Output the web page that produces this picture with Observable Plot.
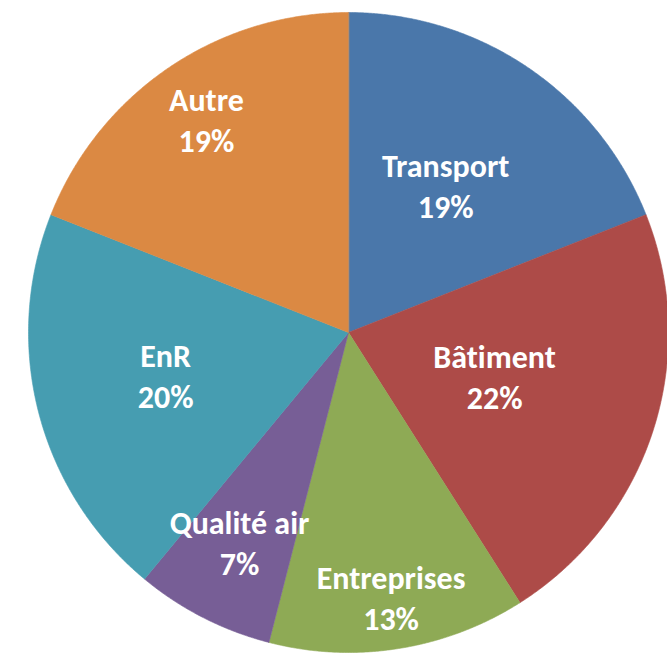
<!DOCTYPE html>
<html>
<head>
<meta charset="utf-8">
<script src="https://cdn.jsdelivr.net/npm/d3@7"></script>
<script src="https://cdn.jsdelivr.net/npm/@observablehq/plot@0.6"></script>
<style>
  html, body { margin: 0; padding: 0; background: #ffffff; }
  #chart { width: 667px; height: 656px; overflow: hidden; }
  #chart svg text, #chart svg tspan { font-variant-ligatures: none; font-feature-settings: "liga" 0, "clig" 0, "dlig" 0; }
</style>
</head>
<body>
<div id="chart"></div>
<script>
// Data
const categories = ["Transport", "Bâtiment", "Entreprises", "Qualité air", "EnR", "Autre"];
const shares = [19, 22, 13, 7, 20, 19];

// Styles
const sliceColors = ["#4a77aa", "#ad4b48", "#8eaa55", "#775e96", "#469db1", "#db8943"];
const labelRadius = [0.54, 0.48, 0.85, 0.75, 0.59, 0.79];

const arcs = d3.pie().sort(null).value(d => d)(shares);

const points = [];
arcs.forEach((a, i) => {
  const name = categories[i];
  points.push({cat: name, x: 0, y: 0});
  const n = Math.max(2, Math.ceil((a.endAngle - a.startAngle) / 0.005));
  for (let k = 0; k <= n; k++) {
    const t = a.startAngle + (a.endAngle - a.startAngle) * k / n;
    points.push({cat: name, x: Math.sin(t), y: -Math.cos(t)});
  }
});

const labelData = arcs.map((a, i) => {
  const m = (a.startAngle + a.endAngle) / 2;
  return {
    cat: categories[i],
    text: `${categories[i]}\n${shares[i]}%`,
    x: labelRadius[i] * Math.sin(m),
    y: -labelRadius[i] * Math.cos(m)
  };
});

const R = 320;
const cx = 348, cy = 332;
const W = 667, H = 656;

const chart = Plot.plot({
  width: W,
  height: H,
  margin: 0,
  x: {domain: [-cx / R, (W - cx) / R], range: [0, W], axis: null},
  y: {domain: [-cy / R, (H - cy) / R], range: [0, H], axis: null},
  color: {domain: categories, range: sliceColors},
  style: "background: #ffffff; font-variant-ligatures: none;",
  marks: [
    Plot.line(points, {
      x: "x", y: "y", z: "cat",
      fill: "cat", stroke: "cat", strokeWidth: 0.6,
      curve: "linear-closed"
    }),
    Plot.text(labelData, {
      x: "x", y: "y", text: "text",
      dy: -5,
      fill: "white",
      fontSize: 32,
      fontWeight: "bold",
      lineHeight: 1.28,
      fontFamily: "Carlito, Calibri, Lato, sans-serif"
    })
  ]
});

document.getElementById("chart").appendChild(chart);
</script>
</body>
</html>
